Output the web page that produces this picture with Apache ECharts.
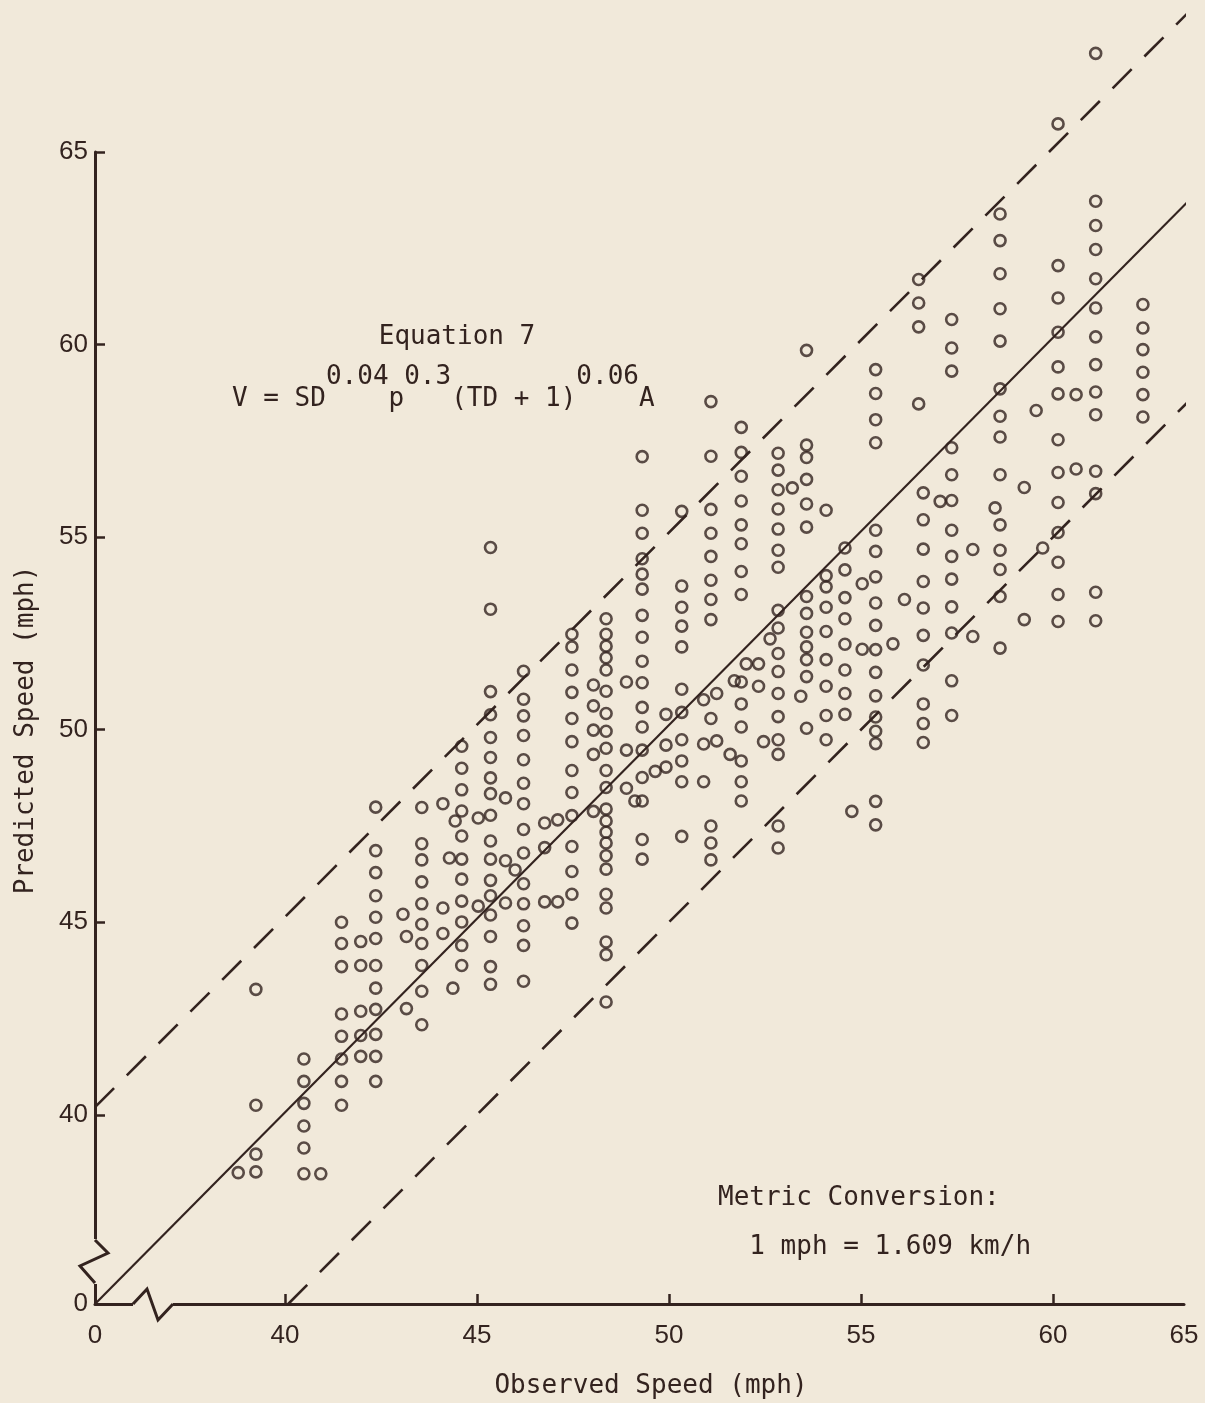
<!DOCTYPE html>
<html>
<head>
<meta charset="utf-8">
<script src="https://cdn.jsdelivr.net/npm/echarts@6/dist/echarts.min.js"></script>
<style>
  html, body { margin: 0; padding: 0; background: #f1e9da; }
  #chart { width: 1205px; height: 1403px; }
</style>
</head>
<body>
<div id="chart"></div>
<script>
// ---- Data: observed speed columns (mph) and the predicted speeds plotted in each column ----
const observedSpeeds = [
  38.78, 39.24, 40.49, 40.93, 41.47, 41.97, 42.36, 43.07, 43.16, 43.56,
  44.11, 44.28, 44.37, 44.43, 44.60, 45.03, 45.35, 45.74, 45.99, 46.21,
  46.76, 47.10, 47.47, 48.03, 48.36, 48.89, 49.11, 49.30, 49.64, 49.92,
  50.33, 50.90, 51.09, 51.24, 51.59, 51.70, 51.88, 52.01, 52.33, 52.46,
  52.63, 52.84, 53.21, 53.43, 53.58, 54.09, 54.58, 54.76, 55.03, 55.38,
  55.83, 56.13, 56.50, 56.62, 57.06, 57.36, 57.91, 58.49, 58.62, 59.25,
  59.56, 59.73, 60.13, 60.60, 61.11, 62.34
];
const predictedSpeeds = [
  [38.50],
  [43.26, 40.25, 38.98, 38.52],
  [41.45, 40.87, 40.30, 39.71, 39.14, 38.47],
  [38.47],
  [45.00, 44.45, 43.85, 42.62, 42.04, 41.45, 40.87, 40.25],
  [44.50, 43.88, 42.69, 42.06, 41.52],
  [47.99, 46.86, 46.29, 45.69, 45.13, 44.58, 43.88, 43.29, 42.74, 42.09, 41.52, 40.87],
  [45.21],
  [44.63, 42.76],
  [47.98, 47.04, 46.62, 46.05, 45.48, 44.95, 44.45, 43.88, 43.21, 42.34],
  [48.08, 45.37, 44.71],
  [46.67],
  [43.29],
  [47.63],
  [49.57, 49.00, 48.44, 47.89, 47.24, 46.64, 46.12, 45.55, 45.01, 44.40, 43.88],
  [47.71, 45.42],
  [54.73, 53.13, 50.99, 50.39, 49.80, 49.28, 48.75, 48.34, 47.78, 47.11, 46.64, 46.09, 45.69, 45.19, 44.63, 43.85, 43.39],
  [48.23, 46.60, 45.50],
  [46.36],
  [51.52, 50.79, 50.36, 49.85, 49.22, 48.61, 48.08, 47.41, 46.80, 46.00, 45.48, 44.91, 44.40, 43.47],
  [47.58, 46.94, 45.53],
  [47.66, 45.53],
  [52.48, 52.15, 51.55, 50.97, 50.29, 49.69, 48.94, 48.37, 47.77, 46.97, 46.32, 45.73, 44.98],
  [51.16, 50.62, 49.99, 49.36, 47.88],
  [52.88, 52.48, 52.17, 51.87, 51.55, 51.00, 50.42, 49.96, 49.52, 48.94, 48.50, 47.94, 47.63, 47.34, 47.06, 46.73, 46.38, 45.73, 45.37, 44.49, 44.16, 42.93],
  [51.24, 49.47, 48.48],
  [48.15],
  [57.09, 55.70, 55.10, 54.44, 54.04, 53.65, 52.97, 52.40, 51.78, 51.22, 50.58, 50.07, 49.47, 48.76, 48.15, 47.15, 46.64],
  [48.92],
  [50.40, 49.60, 49.03],
  [55.67, 53.73, 53.18, 52.69, 52.15, 51.05, 50.45, 49.74, 49.19, 48.65, 47.23],
  [50.78, 49.63, 48.65],
  [58.52, 57.10, 55.72, 55.10, 54.50, 53.88, 53.38, 52.86, 50.29, 47.50, 47.06, 46.62],
  [50.94, 49.71],
  [49.36],
  [51.27],
  [57.85, 57.20, 56.58, 55.94, 55.32, 54.83, 54.11, 53.51, 51.24, 50.67, 50.07, 49.19, 48.65, 48.15],
  [51.71],
  [51.71, 51.13],
  [49.69],
  [52.36],
  [57.18, 56.74, 56.23, 55.73, 55.21, 54.66, 54.22, 53.10, 52.64, 51.98, 51.51, 50.94, 50.34, 49.74, 49.36, 47.50, 46.93],
  [56.28],
  [50.87],
  [59.85, 57.39, 57.07, 56.50, 55.86, 55.26, 53.46, 53.02, 52.53, 52.15, 51.82, 51.38, 50.04],
  [55.70, 54.00, 53.71, 53.18, 52.55, 51.82, 51.13, 50.37, 49.74],
  [54.72, 54.15, 53.43, 52.88, 52.22, 51.55, 50.94, 50.40],
  [47.88],
  [53.79, 52.09],
  [59.35, 58.73, 58.05, 57.45, 55.18, 54.63, 53.97, 53.29, 52.71, 52.08, 51.49, 50.88, 50.33, 49.96, 49.64, 48.14, 47.53],
  [52.23],
  [53.38],
  [61.69, 61.08, 60.46, 58.46],
  [56.15, 55.45, 54.69, 53.85, 53.16, 52.45, 51.68, 50.67, 50.16, 49.67],
  [55.93],
  [60.65, 59.91, 59.31, 57.32, 56.62, 55.95, 55.18, 54.50, 53.91, 53.19, 52.51, 51.27, 50.37],
  [54.68, 52.42],
  [55.76],
  [63.39, 62.70, 61.84, 60.93, 60.09, 58.85, 58.14, 57.60, 56.62, 55.32, 54.66, 54.16, 53.46, 52.12],
  [56.29, 52.86],
  [58.29],
  [54.72],
  [65.73, 62.05, 61.21, 60.32, 59.42, 58.72, 57.53, 56.68, 55.90, 55.12, 54.35, 53.51, 52.81],
  [58.70, 56.77],
  [67.56, 63.72, 63.09, 62.47, 61.71, 60.95, 60.20, 59.48, 58.77, 58.18, 56.71, 56.13, 53.57, 52.83],
  [61.04, 60.43, 59.87, 59.28, 58.70, 58.12]
];

// Reference lines (end points, mph): equality line and the two dashed limits
const equalityLine = [[35.05, 35.09], [63.57, 63.77]];
const upperLimitLine = [[35.05, 40.2], [63.75, 68.85]];
const lowerLimitLine = [[40.08, 35.09], [63.57, 58.57]];

// Axis range (broken axes start at "0") and tick labels
const xRange = [35.05, 63.41];
const yRange = [35.09, 65];
const xTickValues = [40, 45, 50, 55, 60];
const xLabelValues = [35.05, 40, 45, 50, 55, 60, 63.41];
const xLabelTexts = ['0', '40', '45', '50', '55', '60', '65'];
const yTickValues = [40, 45, 50, 55, 60, 65];
const yLabelValues = [35.09, 40, 45, 50, 55, 60, 65];
const yLabelTexts = ['0', '40', '45', '50', '55', '60', '65'];

const INK = '#33231f';
const BG = '#f1e9da';
const MONO = '"DejaVu Sans Mono", "Liberation Mono", monospace';
const SANS = '"Liberation Sans", Arial, sans-serif';

const points = [];
observedSpeeds.forEach((x, i) => predictedSpeeds[i].forEach(y => points.push([x, y])));

function lookup(values, texts, v) {
  for (let i = 0; i < values.length; i++) if (Math.abs(values[i] - v) < 1e-6) return texts[i];
  return '';
}

const chart = echarts.init(document.getElementById('chart'), null, { renderer: 'canvas' });

const option = {
  backgroundColor: BG,
  animation: false,
  grid: { left: 95, right: 21, top: 152, bottom: 99, containLabel: false },
  xAxis: {
    type: 'value', min: xRange[0], max: xRange[1],
    axisLine: { show: true, lineStyle: { color: INK, width: 3 } },
    axisTick: { show: true, inside: true, length: 10, lineStyle: { color: INK, width: 2.5 }, customValues: xTickValues },
    axisLabel: {
      customValues: xLabelValues,
      formatter: v => lookup(xLabelValues, xLabelTexts, v),
      color: INK, fontFamily: SANS, fontSize: 26, margin: 19
    },
    splitLine: { show: false }
  },
  yAxis: {
    type: 'value', min: yRange[0], max: yRange[1],
    axisLine: { show: true, lineStyle: { color: INK, width: 3 } },
    axisTick: { show: true, inside: true, length: 10, lineStyle: { color: INK, width: 2.5 }, customValues: yTickValues },
    axisLabel: {
      customValues: yLabelValues,
      formatter: v => lookup(yLabelValues, yLabelTexts, v),
      color: INK, fontFamily: SANS, fontSize: 26, margin: 7
    },
    splitLine: { show: false }
  },
  series: [
    {
      type: 'line', data: equalityLine, symbol: 'none', clip: false, silent: true, z: 3,
      lineStyle: { color: INK, width: 2.2, type: 'solid' }
    },
    {
      type: 'line', data: upperLimitLine, symbol: 'none', clip: false, silent: true, z: 3,
      lineStyle: { color: INK, width: 2.6, type: [27, 18] }
    },
    {
      type: 'line', data: lowerLimitLine, symbol: 'none', clip: false, silent: true, z: 3,
      lineStyle: { color: INK, width: 2.6, type: [27, 18] }
    },
    {
      type: 'scatter', data: points, symbol: 'circle', symbolSize: 11, clip: false, z: 4,
      itemStyle: { color: 'rgba(0,0,0,0)', borderColor: INK, borderWidth: 2.6 },
      emphasis: { disabled: true }
    }
  ]
};
chart.setOption(option);

// Decorations: axis-break zigzags, annotations and axis titles
const corner = chart.convertToPixel({ gridIndex: 0 }, [xRange[0], yRange[0]]);
const X0 = corner[0], Y0 = corner[1];

chart.setOption({
  graphic: [
    { type: 'rect', z: 100, shape: { x: X0 - 3, y: Y0 - 65, width: 6, height: 45 }, style: { fill: BG } },
    { type: 'polyline', z: 101, shape: { points: [[X0, Y0 - 21], [X0 - 15, Y0 - 38], [X0 + 13, Y0 - 51], [X0, Y0 - 64]] },
      style: { stroke: INK, lineWidth: 3, fill: null } },
    { type: 'rect', z: 100, shape: { x: X0 + 38, y: Y0 - 3, width: 40, height: 6 }, style: { fill: BG } },
    { type: 'polyline', z: 101, shape: { points: [[X0 + 38, Y0], [X0 + 52, Y0 - 15], [X0 + 63, Y0 + 16], [X0 + 78, Y0]] },
      style: { stroke: INK, lineWidth: 3, fill: null } },
    { type: 'text', z: 102, x: 457, y: 337,
      style: { text: 'Equation 7', font: '26px ' + MONO, fill: INK, align: 'center', verticalAlign: 'middle' } },
    { type: 'text', z: 102, x: 232, y: 366,
      style: { text: '      0.04 0.3        0.06\nV = SD    p   (TD + 1)    A', font: '26px ' + MONO, fill: INK,
               align: 'left', verticalAlign: 'top', lineHeight: 22 } },
    { type: 'text', z: 102, x: 718, y: 1174,
      style: { text: 'Metric Conversion:\n  1 mph = 1.609 km/h', font: '26px ' + MONO, fill: INK,
               align: 'left', verticalAlign: 'top', lineHeight: 49 } },
    { type: 'text', z: 102, x: 651, y: 1386,
      style: { text: 'Observed Speed (mph)', font: '26px ' + MONO, fill: INK, align: 'center', verticalAlign: 'middle' } },
    { type: 'text', z: 102, x: 26, y: 730, rotation: Math.PI / 2,
      style: { text: 'Predicted Speed (mph)', font: '26px ' + MONO, fill: INK, align: 'center', verticalAlign: 'middle' } }
  ]
});
</script>
</body>
</html>
